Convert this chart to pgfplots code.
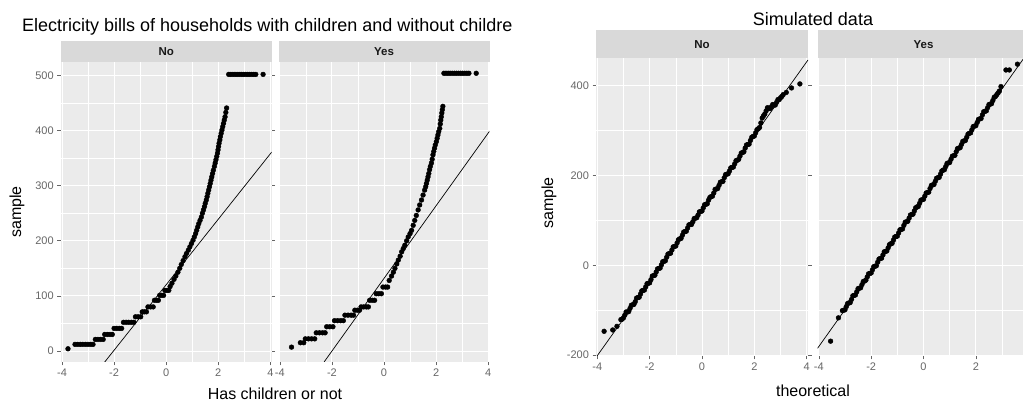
\documentclass[border=0pt]{standalone}
\usepackage{pgfplots}
\pgfplotsset{compat=1.18}
\usepackage{fontspec}
\setmainfont{Liberation Sans}
\definecolor{panelbg}{HTML}{EBEBEB}
\definecolor{stripbg}{HTML}{D9D9D9}
\pgfplotsset{
  facet/.style={
    scale only axis, anchor=south west,
    xmin=-4.05, xmax=4.05,
    xtick={-4,-2,0,2,4},
    axis line style={draw=none},
    axis background/.style={fill=panelbg},
    grid=both, minor tick num=1,
    major grid style={white, line width=0.9pt},
    minor grid style={white, line width=0.45pt},
    tick align=outside,
    major tick length=3.5pt, minor tick length=0pt,
    tick style={black!60, line width=0.6pt},
    tick label style={font=\fontsize{11}{13}\selectfont, text=black!60},
    /pgf/number format/assume math mode=true,
  },
  noy/.style={yticklabels={}, ytick style={draw=none}},
  qqpts/.style={only marks, mark=*, mark size=2.4pt, black},
  qqline/.style={black, line width=0.7pt, no marks},
}
\begin{document}
\begin{tikzpicture}[x=1pt,y=1pt]
\useasboundingbox (0,0) rectangle (1023,404);
\clip (0,0) rectangle (1023,404);

% ---------------- left plot: electricity bills ----------------
\begin{axis}[facet, at={(60.7pt,42pt)}, width=211pt, height=300pt,
  ymin=-20, ymax=524.5, ytick={0,100,200,300,400,500}]
\addplot[qqpts] coordinates {
(-3.77,4)
(-3.50,12) (-3.40,12) (-3.30,12) (-3.20,12) (-3.10,12) (-3.00,12) (-2.90,12) (-2.81,12)
(-2.72,21) (-2.62,21) (-2.52,21) (-2.42,21)
(-2.36,30) (-2.26,30) (-2.16,30) (-2.07,30)
(-2.00,41) (-1.90,41) (-1.80,41) (-1.71,41)
(-1.64,52) (-1.54,52) (-1.44,52) (-1.34,52) (-1.24,52)
(-1.18,62) (-1.08,62) (-0.98,62)
(-0.92,71) (-0.84,71) (-0.76,71)
(-0.70,80) (-0.60,80) (-0.50,80)
(-0.45,92) (-0.37,92) (-0.30,92)
(-0.25,101) (-0.17,101) (-0.10,101)
(-0.05,110) (0.03,110) (0.10,110)
(0.15,117) (0.22,123) (0.30,130) (0.37,136) (0.45,143) (0.52,150) (0.58,157) (0.65,164)
(0.72,171) (0.78,177) (0.85,183) (0.91,189) (0.97,195) (1.03,201) (1.08,207) (1.13,213)
(1.17,219) (1.21,225) (1.25,231) (1.30,237) (1.35,243) (1.39,250) (1.43,256) (1.47,262)
(1.50,268) (1.54,274) (1.57,280) (1.60,286) (1.63,292) (1.66,298) (1.69,304) (1.72,310)
(1.75,316) (1.78,322) (1.81,328) (1.85,335) (1.88,341) (1.91,347) (1.94,353) (1.97,359)
(1.99,365) (2.01,371) (2.03,377) (2.06,383) (2.08,389) (2.11,395) (2.14,401) (2.17,407)
(2.20,413) (2.23,419) (2.26,425) (2.29,433) (2.32,441)
(2.40,502) (2.48,502) (2.56,502) (2.64,502) (2.72,502) (2.80,502) (2.88,502) (2.96,502)
(3.04,502) (3.12,502) (3.20,502) (3.28,502) (3.36,502) (3.44,502) (3.72,502)
};
\addplot[qqline] coordinates {(-2.36,-20) (4.05,361)};
\end{axis}

\begin{axis}[facet, noy, at={(278.5pt,42pt)}, width=211pt, height=300pt,
  ymin=-20, ymax=524.5, ytick={0,100,200,300,400,500}]
\addplot[qqpts] coordinates {
(-3.55,7)
(-3.21,15) (-3.08,15)
(-3.02,22) (-2.90,22) (-2.78,22) (-2.66,22)
(-2.60,33) (-2.48,33) (-2.36,33) (-2.26,33)
(-2.20,44) (-2.08,44) (-1.96,44)
(-1.90,55) (-1.78,55) (-1.66,55) (-1.56,55)
(-1.50,65) (-1.38,65) (-1.26,65) (-1.17,65)
(-1.12,74) (-1.02,74) (-0.94,74)
(-0.88,80) (-0.78,80) (-0.68,80) (-0.60,80)
(-0.55,92) (-0.45,92) (-0.36,92)
(-0.30,104) (-0.20,104) (-0.10,104)
(-0.04,116) (0.06,116) (0.14,116)
(0.20,128) (0.29,136) (0.36,143) (0.42,150) (0.49,158) (0.55,165) (0.62,172) (0.68,180)
(0.74,186) (0.80,192) (0.87,200) (0.93,207) (1.00,213) (1.06,219) (1.12,228) (1.18,237)
(1.24,246) (1.31,256) (1.37,265) (1.44,274) (1.50,283) (1.56,292) (1.60,298) (1.63,304)
(1.66,310) (1.69,316) (1.72,322) (1.75,329) (1.78,335) (1.82,341) (1.85,348) (1.88,356)
(1.91,362) (1.94,368) (1.97,374) (2.01,380) (2.04,386) (2.07,392) (2.10,398) (2.14,404)
(2.16,412) (2.18,419) (2.20,425) (2.22,432) (2.24,438) (2.26,444)
(2.30,504) (2.38,504) (2.46,504) (2.54,504) (2.62,504) (2.70,504) (2.78,504) (2.86,504)
(2.94,504) (3.02,504) (3.10,504) (3.18,504) (3.26,504) (3.54,504)
};
\addplot[qqline] coordinates {(-2.30,-20) (4.05,398.8)};
\end{axis}

\fill[stripbg] (60.7,342) rectangle (271.7,363);
\fill[stripbg] (278.5,342) rectangle (489.5,363);
\node[font=\fontsize{11.5}{13}\selectfont\bfseries, text=black!90, anchor=base] at (166.2,348) {No};
\node[font=\fontsize{11.5}{13}\selectfont\bfseries, text=black!90, anchor=base] at (384,348) {Yes};
\node[font=\fontsize{18}{20}\selectfont, anchor=base west, inner sep=0pt] at (22,372) {Electricity bills of households with children and without childre};
\node[font=\fontsize{16}{18}\selectfont, anchor=base, inner sep=0pt] at (275,4) {Has children or not};
\node[font=\fontsize{16}{18}\selectfont, rotate=90, inner sep=0pt] at (17,192) {sample};

% ---------------- right plot: simulated data ----------------
\begin{axis}[facet, at={(596pt,48pt)}, width=212pt, height=298pt,
  ymin=-202, ymax=461.7, ytick={-200,0,200,400}]
\addplot[qqpts] coordinates {
(-3.74,-147) (-3.41,-144) (-3.25,-136)
(-3.1,-121) (-3.0,-117) (-2.9,-104) (-2.8,-103) (-2.7,-89) (-2.6,-87) (-2.5,-73) (-2.4,-71)
(-2.3,-57) (-2.2,-55) (-2.1,-41) (-2.0,-39) (-1.9,-24) (-1.8,-22) (-1.7,-8) (-1.6,-6)
(-1.5,8) (-1.4,10) (-1.3,25) (-1.2,27) (-1.1,41) (-1.0,43) (-0.9,57) (-0.8,60)
(-0.7,74) (-0.6,76) (-0.5,90) (-0.4,91) (-0.3,104) (-0.2,106) (-0.1,119) (0.0,121)
(0.1,135) (0.2,137) (0.3,151) (0.4,154) (0.5,169) (0.6,171) (0.7,185) (0.8,187)
(0.9,202) (1.0,204) (1.1,217) (1.2,219) (1.3,233) (1.4,236) (1.5,250) (1.6,253)
(1.7,268) (1.8,270) (1.9,285) (2.0,288) (2.1,302) (2.2,307) (2.3,328) (2.4,337)
(2.5,351) (2.6,349) (2.7,358) (2.8,357) (2.9,369) (3.0,373) (3.1,380)
(3.22,385) (3.42,395) (3.74,404)
(-3.05,-120) (-2.95,-111) (-2.85,-104) (-2.75,-96) (-2.65,-88) (-2.55,-81) (-2.45,-72)
(-2.35,-64) (-2.25,-56) (-2.15,-48) (-2.05,-40) (-1.95,-32) (-1.85,-23) (-1.75,-15)
(-1.65,-7) (-1.55,1) (-1.45,9) (-1.35,18) (-1.25,26) (-1.15,34) (-1.05,42) (-0.95,50)
(-0.85,59) (-0.75,67) (-0.65,75) (-0.55,83) (-0.45,91) (-0.35,97) (-0.25,105) (-0.15,112)
(-0.05,120) (0.05,128) (0.15,136) (0.25,145) (0.35,153) (0.45,161) (0.55,170) (0.65,178)
(0.75,186) (0.85,195) (0.95,203) (1.05,210) (1.15,218) (1.25,226) (1.35,234) (1.45,243)
(1.55,251) (1.65,261) (1.75,269) (1.85,278) (1.95,287) (2.05,295) (2.15,304) (2.25,317)
(2.35,333) (2.45,344) (2.55,350) (2.65,353) (2.75,357) (2.85,363) (2.95,369) (3.05,376)
};
\addplot[qqline] coordinates {(-4.05,-205.3) (4.05,457.3)};
\end{axis}

\begin{axis}[facet, noy, at={(817.5pt,48pt)}, width=212pt, height=298pt,
  ymin=-202, ymax=461.7, ytick={-200,0,200,400}]
\addplot[qqpts] coordinates {
(-3.55,-169) (-3.25,-117)
(-3.1,-101) (-3.0,-99) (-2.9,-85) (-2.8,-83) (-2.7,-68) (-2.6,-66) (-2.5,-52) (-2.4,-50)
(-2.3,-36) (-2.2,-33) (-2.1,-19) (-2.0,-17) (-1.9,-3) (-1.8,-1) (-1.7,14) (-1.6,16)
(-1.5,30) (-1.4,32) (-1.3,46) (-1.2,49) (-1.1,63) (-1.0,65) (-0.9,79) (-0.8,81)
(-0.7,96) (-0.6,98) (-0.5,112) (-0.4,114) (-0.3,128) (-0.2,131) (-0.1,145) (0.0,147)
(0.1,161) (0.2,163) (0.3,178) (0.4,180) (0.5,194) (0.6,196) (0.7,210) (0.8,213)
(0.9,227) (1.0,229) (1.1,243) (1.2,245) (1.3,260) (1.4,262) (1.5,276) (1.6,278)
(1.7,292) (1.8,295) (1.9,309) (2.0,311) (2.1,325) (2.2,327) (2.3,342) (2.4,344)
(2.5,358) (2.6,360) (2.7,374) (2.8,380) (2.9,388)
(2.96,398) (3.15,435) (3.28,435) (3.59,448)
(-3.05,-100) (-2.95,-92) (-2.85,-84) (-2.75,-76) (-2.65,-67) (-2.55,-59) (-2.45,-51)
(-2.35,-43) (-2.25,-35) (-2.15,-26) (-2.05,-18) (-1.95,-10) (-1.85,-2) (-1.75,7)
(-1.65,15) (-1.55,23) (-1.45,31) (-1.35,39) (-1.25,48) (-1.15,56) (-1.05,64) (-0.95,72)
(-0.85,80) (-0.75,89) (-0.65,97) (-0.55,105) (-0.45,113) (-0.35,121) (-0.25,130) (-0.15,138)
(-0.05,146) (0.05,154) (0.15,162) (0.25,171) (0.35,179) (0.45,187) (0.55,195) (0.65,203)
(0.75,212) (0.85,220) (0.95,228) (1.05,236) (1.15,244) (1.25,253) (1.35,261) (1.45,269)
(1.55,277) (1.65,285) (1.75,294) (1.85,302) (1.95,310) (2.05,318) (2.15,326) (2.25,335)
(2.35,343) (2.45,351) (2.55,359) (2.65,367) (2.75,376) (2.85,384)
};
\addplot[qqline] coordinates {(-4.05,-185) (4.05,479)};
\end{axis}

\fill[stripbg] (596,346) rectangle (808,374);
\fill[stripbg] (817.5,346) rectangle (1029.5,374);
\node[font=\fontsize{11.5}{13}\selectfont\bfseries, text=black!90, anchor=base] at (702,355.5) {No};
\node[font=\fontsize{11.5}{13}\selectfont\bfseries, text=black!90, anchor=base] at (923.5,355.5) {Yes};
\node[font=\fontsize{18}{20}\selectfont, anchor=base, inner sep=0pt] at (813,378) {Simulated data};
\node[font=\fontsize{16}{18}\selectfont, anchor=base, inner sep=0pt] at (813,7) {theoretical};
\node[font=\fontsize{16}{18}\selectfont, rotate=90, inner sep=0pt] at (549,201) {sample};
\end{tikzpicture}
\end{document}
